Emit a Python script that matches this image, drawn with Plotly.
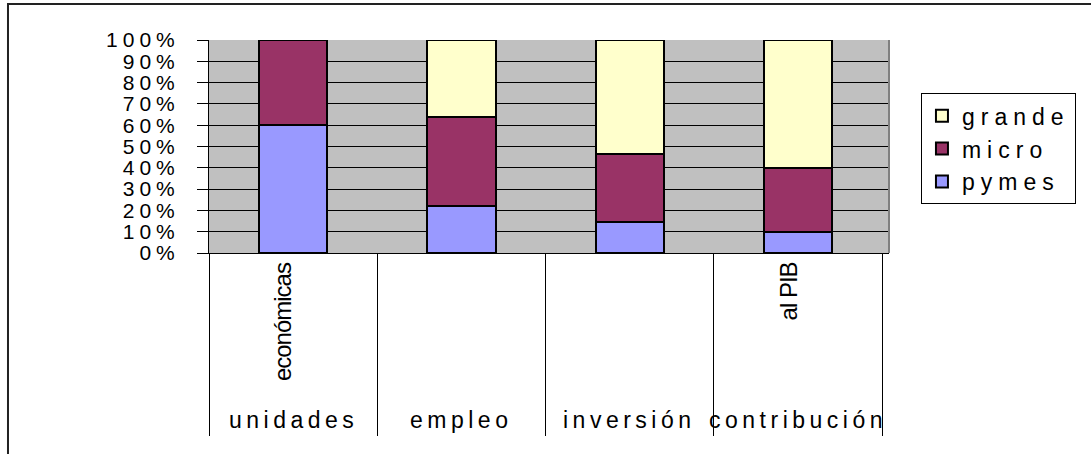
import plotly.graph_objects as go

# datos (porcentaje de cada estrato)
categorias = ["unidades", "empleo", "inversión", "contribución"]
subetiquetas = ["económicas", "", "", "al PIB"]
pymes = [60, 22, 14.5, 10]
micro = [40, 42, 32, 30]
grande = [0, 36, 53.5, 60]
ticks_y = [0, 10, 20, 30, 40, 50, 60, 70, 80, 90, 100]

FUENTE = "Liberation Sans, Arial, sans-serif"


def ancho(txt, sp=4):
    # Excel estira el texto horizontalmente; se imita con letter-spacing
    return f'<span style="letter-spacing:{sp}px">{txt}</span>'


fig = go.Figure()
fig.add_trace(go.Bar(x=categorias, y=pymes, name=ancho("pymes", 6),
                     marker=dict(color="#9999FF", line=dict(color="black", width=2))))
fig.add_trace(go.Bar(x=categorias, y=micro, name=ancho("micro", 6),
                     marker=dict(color="#993366", line=dict(color="black", width=2))))
fig.add_trace(go.Bar(x=categorias, y=grande, name=ancho("grande", 6),
                     marker=dict(color="#FFFFCC", line=dict(color="black", width=2))))

# etiquetas del eje de categorías
for i, c in enumerate(categorias):
    fig.add_annotation(x=c, y=-0.784, xref="x", yref="paper", text=ancho(c, 4.5),
                       showarrow=False, yanchor="middle", xanchor="center",
                       font=dict(size=23, color="black", family=FUENTE))
    if subetiquetas[i]:
        fig.add_annotation(x=c, y=-0.035, xref="x", yref="paper", text=ancho(subetiquetas[i], -1),
                           showarrow=False, textangle=-90, xshift=-10, yanchor="top", xanchor="center",
                           font=dict(size=24, color="black", family=FUENTE))

# marco exterior (solo se ven el borde superior e izquierdo)
fig.add_shape(type="rect", xref="paper", yref="paper", x0=-0.2956, x1=1.35, y0=-1.05, y1=1.169,
              line=dict(color="#222222", width=2))
# borde derecho del área gris
fig.add_shape(type="line", xref="paper", yref="paper", x0=1, x1=1, y0=0, y1=1,
              line=dict(color="#808080", width=2))

fig.update_layout(
    width=1091, height=454,
    margin=dict(l=209, r=202, t=40, b=201),
    barmode="stack", bargap=0.594,
    plot_bgcolor="#C0C0C0", paper_bgcolor="white",
    font=dict(family=FUENTE, size=22, color="black"),
    showlegend=True,
    legend=dict(x=1.047, y=0.75, xanchor="left", yanchor="top", traceorder="reversed",
                bordercolor="black", borderwidth=1, bgcolor="white",
                font=dict(size=23), itemwidth=30),
)
fig.update_xaxes(showticklabels=False, showgrid=False, showline=True, linecolor="black", linewidth=1,
                 ticks="outside", tickson="boundaries", ticklen=182, tickcolor="black", tickwidth=1)
fig.update_yaxes(range=[0, 100], tickvals=ticks_y, ticktext=[ancho(f"{v}%", 5) for v in ticks_y],
                 showgrid=True, gridcolor="black", gridwidth=1, zeroline=False,
                 showline=True, linecolor="black", linewidth=1,
                 ticks="outside", ticklen=11, tickcolor="black", ticklabelstandoff=13,
                 tickfont=dict(size=21))

# quitar el margen por defecto del body para que la figura empiece en (0, 0)
fig.write_html("out.html", config={"displayModeBar": False},
               post_script="document.body.style.margin='0';")
